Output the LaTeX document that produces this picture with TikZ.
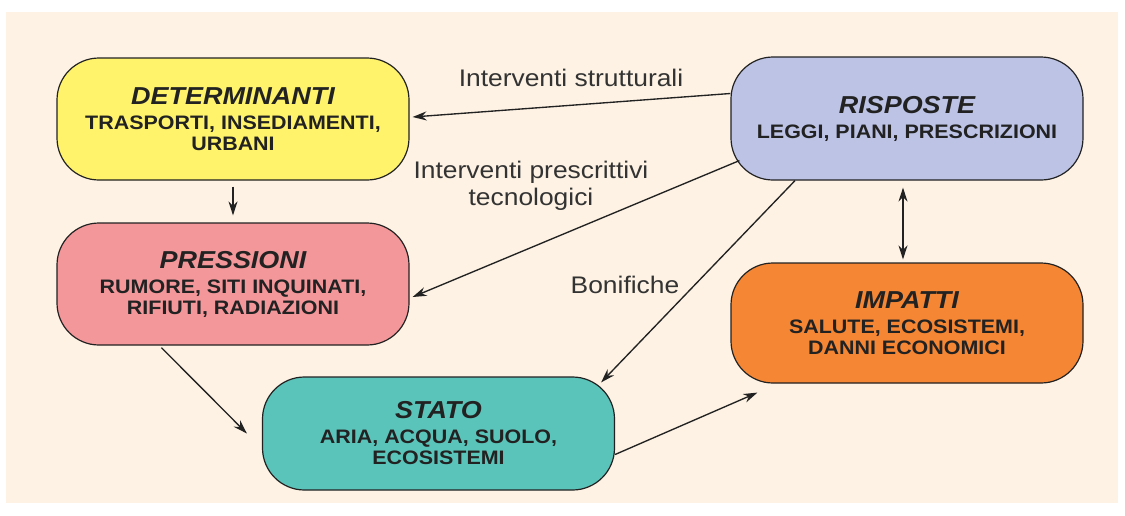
\documentclass[tikz,border=0pt]{standalone}
\usepackage{fontspec}
\setmainfont{Liberation Sans}[FakeStretch=1.1]
\usetikzlibrary{arrows.meta,calc}
\definecolor{bgc}{HTML}{FDF2E3}
\definecolor{yel}{HTML}{FFF36B}
\definecolor{pnk}{HTML}{F4979A}
\definecolor{lav}{HTML}{BCC3E5}
\definecolor{org}{HTML}{F58634}
\definecolor{tea}{HTML}{5BC4BA}
\definecolor{ink}{HTML}{222222}
\definecolor{lbl}{HTML}{333333}
\tikzset{
  box/.style={draw=ink, line width=1.2pt, rounded corners=42pt, minimum width=352pt, minimum height=122pt, inner sep=0pt, align=center, text=ink, font=\bfseries\fontsize{19.5}{21}\selectfont},
  conn/.style={draw=ink, line width=1.35pt, -{Stealth[length=14pt,width=9pt]}},
  lab/.style={text=lbl, font=\fontsize{24}{27}\selectfont, align=center, inner sep=0pt}
}
\newcommand{\ttl}[1]{{\fontsize{24.5}{27}\selectfont\bfseries\itshape #1}\\[4pt]}
\begin{document}
\begin{tikzpicture}[x=1pt,y=-1pt]
\useasboundingbox (0,0) rectangle (1125,515);
\fill[bgc] (6,12) rectangle (1118,503);
\node[box, fill=yel] (D) at (233,119) {\ttl{DETERMINANTI}TRASPORTI, INSEDIAMENTI,\\URBANI};
\node[box, fill=pnk] (P) at (233,284) {\ttl{PRESSIONI}RUMORE, SITI INQUINATI,\\RIFIUTI, RADIAZIONI};
\node[box, fill=lav, minimum height=123pt] (R) at (907,118.5) {\ttl{RISPOSTE}LEGGI, PIANI, PRESCRIZIONI};
\node[box, fill=org, minimum height=120pt] (I) at (907,323) {\ttl{IMPATTI}SALUTE, ECOSISTEMI,\\DANNI ECONOMICI};
\node[box, fill=tea, minimum height=113pt] (S) at (438.5,433.5) {\ttl{STATO}ARIA, ACQUA, SUOLO,\\ECOSISTEMI};
\draw[conn] ([yshift=25pt]R.west) -- ([xshift=3pt,yshift=2pt]D.east);
\draw[conn] ([xshift=9pt,yshift=20pt]R.south west) -- ([xshift=3pt,yshift=-13pt]P.east);
\draw[conn] ([xshift=-112pt]R.south) -- ([xshift=-14pt,yshift=-6pt]S.north east);
\draw[conn, shorten <=6pt, shorten >=7pt] (D.south) -- (P.north);
\draw[conn] ([xshift=105pt,yshift=-2pt]P.south west) -- ([xshift=-15pt]S.west);
\draw[conn] ([yshift=-21pt]S.east) -- ([xshift=27pt,yshift=-9pt]I.south west);
\draw[conn, {Stealth[length=14pt,width=9pt]}-{Stealth[length=14pt,width=9pt]}, shorten <=7pt, shorten >=3pt] ([xshift=-4pt]R.south) -- ([xshift=-4pt]I.north);
\node[lab] (l1) at (571,78) {Interventi strutturali};
\node[lab] (l2) at (531,186) {Interventi prescrittivi\\tecnologici};
\node[lab] (l3) at (625,285) {Bonifiche};
\end{tikzpicture}
\end{document}
